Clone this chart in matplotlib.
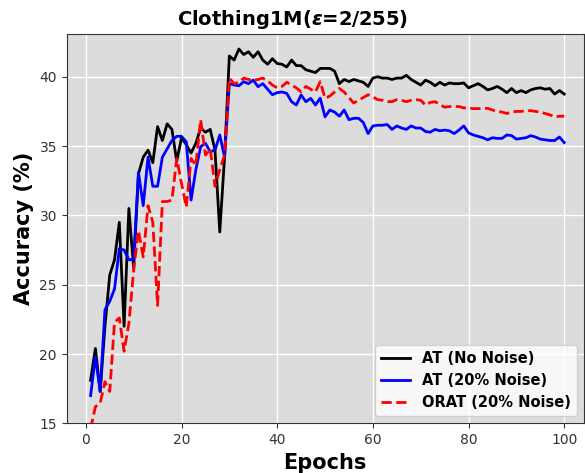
import matplotlib

matplotlib.use("Agg")
import matplotlib.pyplot as plt
import numpy as np

epochs = np.arange(1, 101)

at_clean = [
    18.1, 20.4, 17.3, 22.0, 25.7, 26.8, 29.5, 22.0, 30.5, 26.2,
    33.0, 34.2, 34.7, 33.8, 36.4, 35.4, 36.6, 36.2, 33.9, 35.6,
    35.1, 34.5, 35.2, 36.3, 36.0, 36.2, 34.7, 28.8, 34.2, 41.5,
    41.2, 42.0, 41.6, 41.8, 41.4, 41.8, 41.2, 40.9, 41.3, 40.95,
    40.9, 40.7, 41.2, 40.8, 40.8, 40.5, 40.4, 40.3, 40.6, 40.6,
    40.6, 40.4, 39.5, 39.8, 39.65, 39.8, 39.7, 39.6, 39.3, 39.9,
    40.0, 39.9, 39.9, 39.8, 39.9, 39.9, 40.1, 39.8, 39.6, 39.4,
    39.75, 39.6, 39.35, 39.6, 39.4, 39.55, 39.5, 39.5, 39.55, 39.2,
    39.35, 39.5, 39.3, 39.05, 39.15, 39.3, 39.1, 38.85, 39.15, 38.85,
    39.0, 38.85, 39.05, 39.15, 39.2, 39.1, 39.15, 38.75, 39.0, 38.75,
]

at_noisy = [
    17.0, 19.8, 17.3, 23.2, 23.8, 24.7, 27.6, 27.5, 26.8, 26.8,
    33.1, 30.7, 34.2, 32.1, 32.1, 34.2, 34.8, 35.4, 35.7, 35.7,
    35.3, 31.1, 33.3, 34.95, 35.2, 34.6, 34.7, 35.8, 34.2, 39.5,
    39.4, 39.35, 39.64, 39.5, 39.76, 39.28, 39.5, 39.1, 38.7, 38.85,
    38.9, 38.8, 38.2, 37.96, 38.68, 38.2, 38.44, 37.96, 38.45, 37.1,
    37.6, 37.45, 37.15, 37.6, 36.9, 37.0, 37.0, 36.7, 35.9, 36.45,
    36.5, 36.5, 36.55, 36.2, 36.45, 36.3, 36.2, 36.45, 36.3, 36.3,
    36.05, 36.0, 36.2, 36.1, 36.15, 36.1, 35.9, 36.15, 36.45, 35.95,
    35.8, 35.7, 35.6, 35.45, 35.6, 35.55, 35.55, 35.8, 35.75, 35.5,
    35.55, 35.6, 35.75, 35.65, 35.5, 35.45, 35.4, 35.4, 35.65, 35.25,
]

orat_noisy = [
    14.6, 16.2, 16.45, 18.0, 17.3, 22.3, 22.6, 20.2, 22.2, 26.05,
    28.9, 27.0, 30.7, 29.5, 23.5, 31.0, 31.0, 31.1, 34.1, 32.3,
    30.6, 34.1, 33.6, 36.9, 34.35, 34.8, 32.1, 33.3, 34.35, 39.9,
    39.5, 39.6, 39.9, 39.8, 39.75, 39.8, 39.9, 39.7, 39.4, 39.2,
    39.3, 39.6, 39.4, 39.2, 38.9, 39.3, 39.1, 38.9, 39.65, 38.45,
    38.6, 38.9, 39.15, 38.9, 38.5, 38.1, 38.3, 38.5, 38.7, 38.55,
    38.35, 38.3, 38.2, 38.2, 38.35, 38.3, 38.2, 38.3, 38.35, 38.3,
    37.95, 38.15, 38.2, 38.0, 37.8, 37.85, 37.85, 37.85, 37.75, 37.75,
    37.7, 37.7, 37.7, 37.72, 37.6, 37.5, 37.45, 37.35, 37.45, 37.5,
    37.5, 37.55, 37.55, 37.5, 37.45, 37.35, 37.25, 37.1, 37.15, 37.15,
]

fig = plt.figure(figsize=(5.85, 4.73), dpi=100)
ax = fig.add_axes([0.114, 0.105, 0.884, 0.8225])
ax.set_facecolor("#dcdcdc")
ax.grid(True, color="white", lw=1.0)
ax.set_axisbelow(True)

ax.plot(epochs, at_clean, color="black", lw=2.0, label="AT (No Noise)")
ax.plot(epochs, at_noisy, color="blue", lw=2.0, label="AT (20% Noise)")
ax.plot(epochs, orat_noisy, color="red", lw=2.0, ls="--", label="ORAT (20% Noise)")

ax.set_xlim(-4.0, 104.1)
ax.set_ylim(15, 43.06)
ax.set_xticks([0, 20, 40, 60, 80, 100])
ax.tick_params(labelsize=10, colors="#333333")
for s in ax.spines.values():
    s.set_color("#333333")

ax.set_xlabel("Epochs", fontsize=15, fontweight="bold")
ax.set_ylabel("Accuracy (%)", fontsize=15, fontweight="bold")
fig.text(0.5, 0.958, r"Clothing1M($\mathbfit{\varepsilon}$=2/255)",
         ha="center", va="center", fontsize=14, fontweight="bold")

leg = ax.legend(loc="lower right", prop={"weight": "bold", "size": 10.5})

fig.savefig("out.png", dpi=100)
